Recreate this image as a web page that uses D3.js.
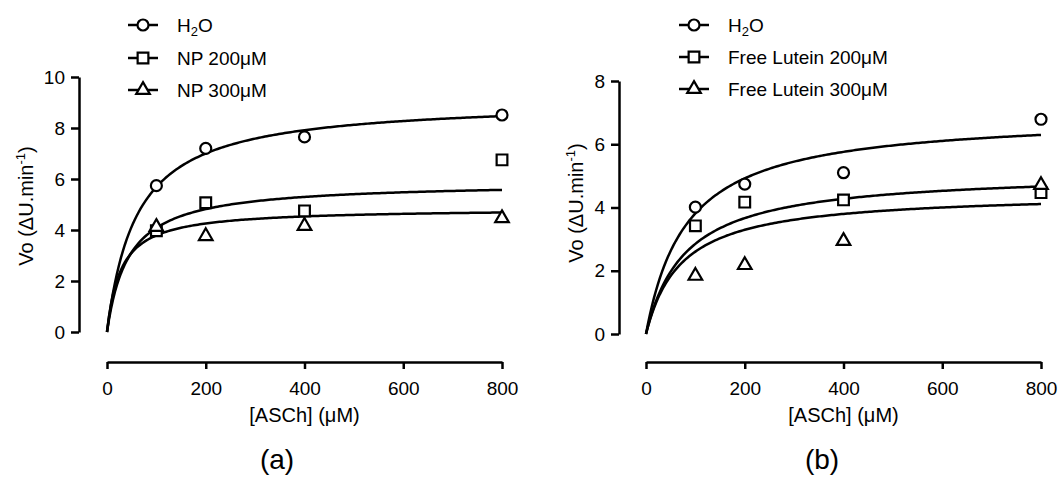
<!DOCTYPE html>
<meta charset="utf-8">
<style>
  body { margin: 0; background: #fff; }
  svg text { font-family: "Liberation Sans", Arial, sans-serif; fill: #000; }
  .axis path, .axis line { stroke: #000; stroke-width: 2.5; }
  .axis text { font-size: 19px; }
  .fit { fill: none; stroke: #000; stroke-width: 2.5; }
  .pt { fill: #fff; stroke: #000; stroke-width: 2.2; }
</style>
<svg width="1060" height="479"></svg>
<script src="https://d3js.org/d3.v7.min.js"></script>
<script>
// concentrations [ASCh] (uM)
var conc = [100, 200, 400, 800];

// panel (a)
var namesA = ["H2O", "NP 200μM", "NP 300μM"];
var aH2O   = [5.74, 7.2, 7.65, 8.51];
var aNP200 = [3.97, 5.07, 4.75, 6.75];
var aNP300 = [4.12, 3.76, 4.16, 4.46];
// Michaelis-Menten fit (Vmax, Km)
var aVmax = [9.1, 5.88, 4.85];
var aKm   = [60, 44, 28];

// panel (b)
var namesB = ["H2O", "Free Lutein 200μM", "Free Lutein 300μM"];
var bH2O    = [4.01, 4.74, 5.1, 6.79];
var bLut200 = [3.42, 4.17, 4.24, 4.47];
var bLut300 = [1.84, 2.18, 2.94, 4.71];
var bVmax = [6.94, 5.13, 4.48];
var bKm   = [82, 80, 72];

var xTicks = [0, 200, 400, 600, 800];
var yTicksA = [0, 2, 4, 6, 8, 10];
var yTicksB = [0, 2, 4, 6, 8];

var svg = d3.select("svg");
var symbols = [d3.symbolCircle, d3.symbolSquare, d3.symbolTriangle];
var symSize = [95, 115, 80];

function panel(opt) {
  var x = d3.scaleLinear().domain([0, 800]).range(opt.xr);
  var y = d3.scaleLinear().domain([0, opt.ymax]).range(opt.yr);
  var g = svg.append("g");

  g.append("g").attr("class", "axis")
    .attr("transform", "translate(" + opt.yAxisX + ",0)")
    .call(d3.axisLeft(y).tickValues(opt.yTicks).tickSize(8).tickSizeOuter(0).tickPadding(6))
    .call(function (s) { s.selectAll("text").attr("fill", "#000"); });

  g.append("g").attr("class", "axis")
    .attr("transform", "translate(0,362)")
    .call(d3.axisBottom(x).tickValues(xTicks).tickSize(7).tickSizeOuter(0).tickPadding(13))
    .call(function (s) { s.selectAll("text").attr("fill", "#000"); });

  g.selectAll(".axis").attr("font-family", null).attr("font-size", null);

  // x title
  g.append("text")
    .attr("x", (opt.xr[0] + opt.xr[1]) / 2).attr("y", 422)
    .attr("text-anchor", "middle").attr("font-size", 20)
    .text("[ASCh] (μM)");

  // y title
  var yt = g.append("text")
    .attr("transform", "translate(" + opt.yTitleX + "," + opt.yTitleY + ") rotate(-90)")
    .attr("text-anchor", "middle").attr("font-size", 20);
  yt.append("tspan").text("Vo (ΔU.min");
  yt.append("tspan").attr("font-size", 13).attr("dy", -8).text("-1");
  yt.append("tspan").attr("dy", 8).text(")");

  // panel label
  g.append("text")
    .attr("x", opt.labelX).attr("y", 469)
    .attr("text-anchor", "middle").attr("font-size", 28)
    .text(opt.label);

  // fitted curves
  var xs = d3.range(0, 801, 4);
  var line = d3.line().x(function (d) { return x(d[0]); }).y(function (d) { return y(d[1]); });
  opt.vmax.forEach(function (vm, i) {
    var km = opt.km[i];
    g.append("path").attr("class", "fit")
      .attr("d", line(xs.map(function (s) { return [s, vm * s / (km + s)]; })));
  });

  // points
  opt.series.forEach(function (vals, i) {
    g.selectAll(null).data(vals).enter().append("path")
      .attr("class", "pt")
      .attr("transform", function (d, j) { return "translate(" + x(conc[j]) + "," + y(d) + ")"; })
      .attr("d", d3.symbol().type(symbols[i]).size(symSize[i]));
  });

  // legend
  var lg = g.append("g");
  opt.names.forEach(function (n, i) {
    var ly = opt.legY[i];
    lg.append("line").attr("x1", opt.legX - 15).attr("x2", opt.legX + 15)
      .attr("y1", ly).attr("y2", ly).attr("stroke", "#000").attr("stroke-width", 2.5);
    lg.append("path").attr("class", "pt")
      .attr("transform", "translate(" + opt.legX + "," + ly + ")")
      .attr("d", d3.symbol().type(symbols[i]).size(symSize[i]));
    var t = lg.append("text").attr("x", opt.legX + 34).attr("y", ly + 7).attr("font-size", 19);
    if (n === "H2O") {
      t.append("tspan").text("H");
      t.append("tspan").attr("font-size", 13).attr("dy", 4).text("2");
      t.append("tspan").attr("dy", -4).text("O");
    } else {
      t.text(n);
    }
  });
}

panel({
  xr: [107, 502], yr: [332, 77], ymax: 10, yTicks: yTicksA, yAxisX: 79,
  yTitleX: 33, yTitleY: 206, label: "(a)", labelX: 277,
  vmax: aVmax, km: aKm, series: [aH2O, aNP200, aNP300],
  names: namesA, legX: 143, legY: [25, 58, 90]
});

panel({
  xr: [646, 1041], yr: [334, 81], ymax: 8, yTicks: yTicksB, yAxisX: 619,
  yTitleX: 583, yTitleY: 203, label: "(b)", labelX: 822,
  vmax: bVmax, km: bKm, series: [bH2O, bLut200, bLut300],
  names: namesB, legX: 694, legY: [25, 57, 89]
});
</script>
